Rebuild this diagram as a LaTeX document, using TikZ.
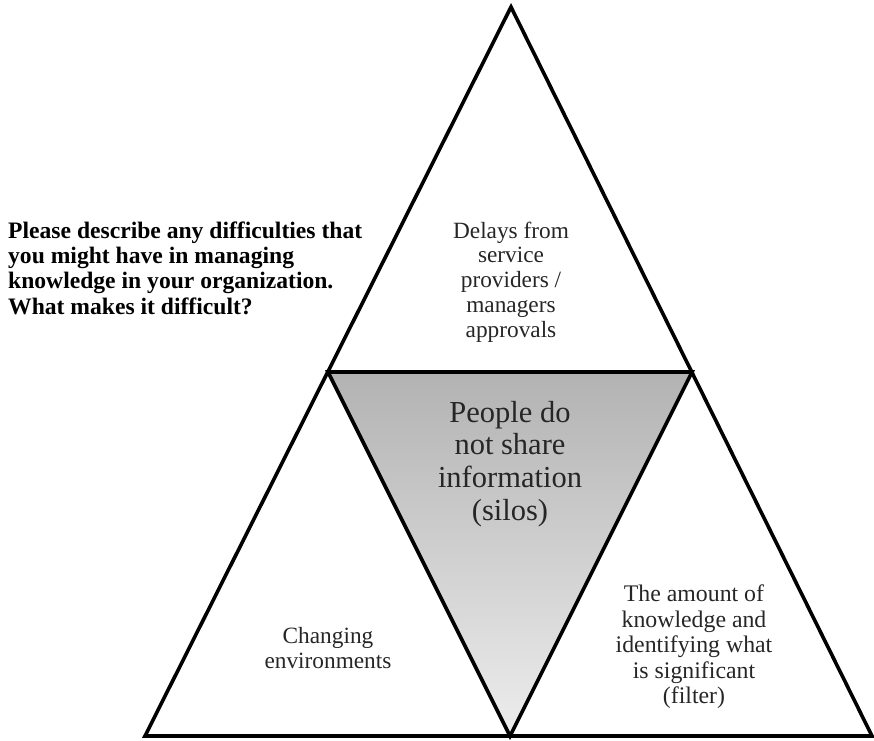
\documentclass[tikz,border=0pt]{standalone}
\usepackage{fontspec}
\setmainfont{Liberation Serif}
\begin{document}
\begin{tikzpicture}[x=1pt,y=-1pt,
  edge/.style={line width=3.6pt, line join=miter, black},
  txt/.style={inner sep=0pt, align=center, text=black!85},
  tsmall/.style={txt, font=\fontsize{23.3}{24.8}\selectfont},
  tbig/.style={txt, font=\fontsize{30.5}{32.7}\selectfont},
  question/.style={inner sep=0pt, align=left, anchor=west, font=\bfseries\fontsize{23.6}{25.3}\selectfont}]
\useasboundingbox (0,0) rectangle (874,740);
\coordinate (A) at (511,7);
\coordinate (BL) at (145,736);
\coordinate (BR) at (872,736);
\coordinate (ML) at (328,372);
\coordinate (MR) at (692,372);
\coordinate (BM) at (510,736);
\shade[top color=black!30, bottom color=black!7] (ML) -- (MR) -- (BM) -- cycle;
\draw[edge] (A) -- (BL) -- (BR) -- cycle;
\draw[edge] (ML) -- (MR) -- (BM) -- cycle;
\node[question] (q) at (8,268) {Please describe any difficulties that\\you might have in managing\\knowledge in your organization.\\What makes it difficult?};
\node[tsmall] (top) at (511,282) {Delays from\\service\\providers /\\managers\\approvals};
\node[tbig] (mid) at (510,464) {People do\\not share\\information\\(silos)};
\node[tsmall] (left) at (328,648) {Changing\\environments};
\node[tsmall, font=\fontsize{23.8}{25.5}\selectfont] (right) at (694,647) {The amount of\\knowledge and\\identifying what\\is significant\\(filter)};
\end{tikzpicture}
\end{document}
